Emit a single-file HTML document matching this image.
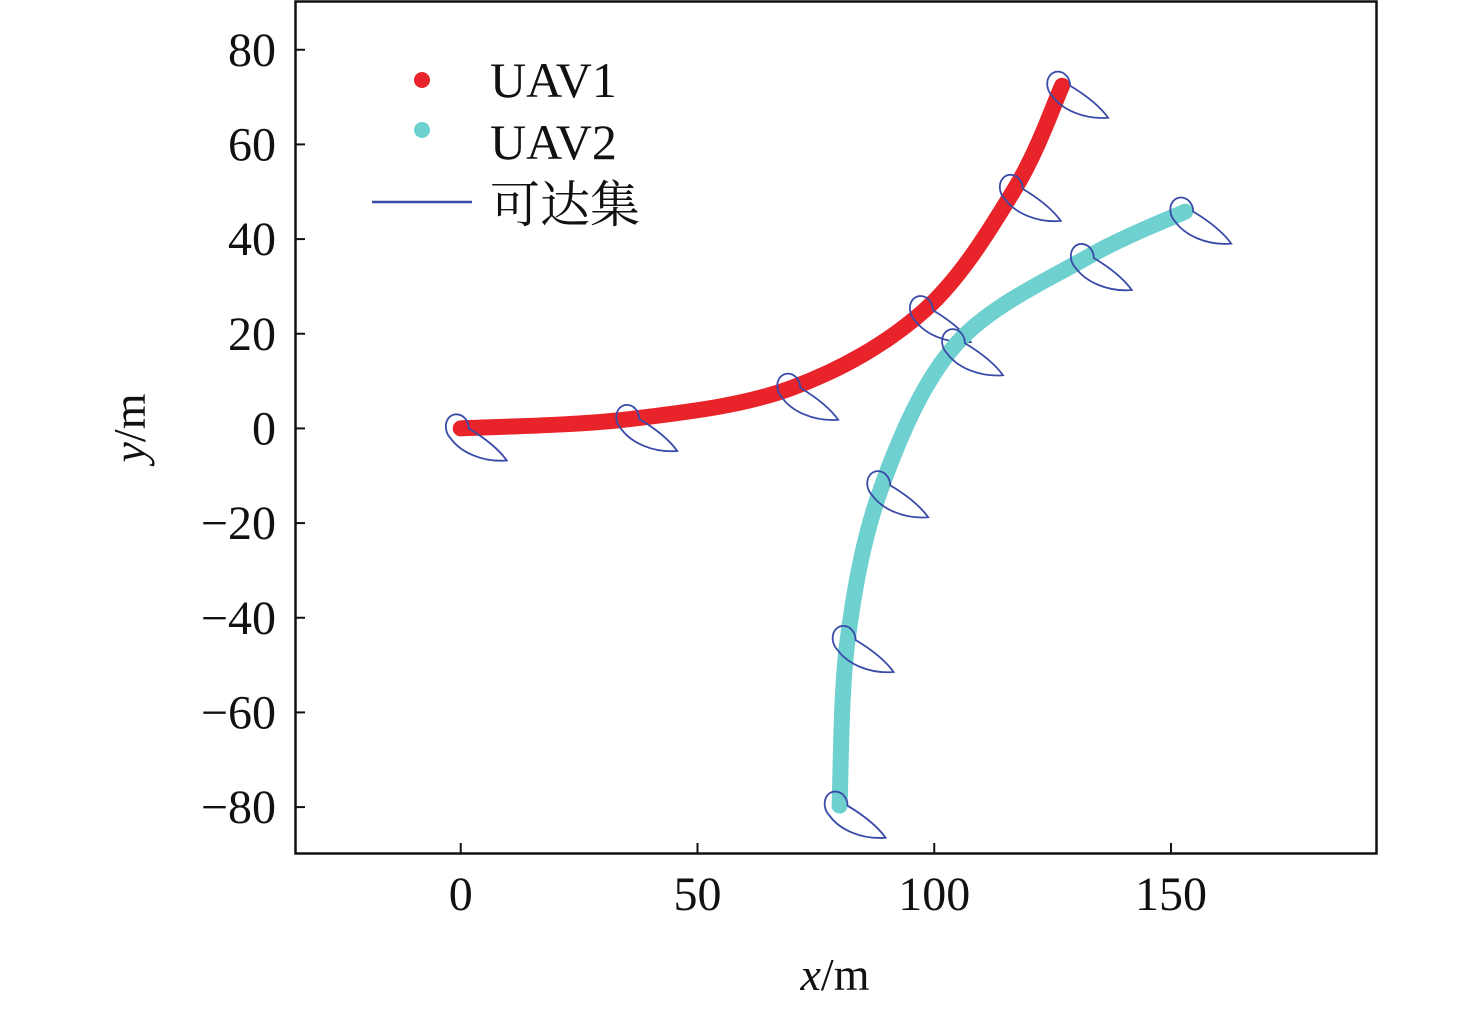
<!DOCTYPE html>
<html><head><meta charset="utf-8"><style>
body{margin:0;background:#fff;}
svg text{font-family:"Liberation Serif","Noto Serif CJK SC",serif;fill:#111;}
</style></head><body>
<svg id="chart" width="1476" height="1007" viewBox="0 0 1476 1007" xmlns="http://www.w3.org/2000/svg">
<g id="marks"></g>
<rect x="295.5" y="1.5" width="1081" height="852" fill="none" stroke="#111" stroke-width="2.5"/>
<g id="axes"></g>
<text x="835" y="990" font-size="46" text-anchor="middle"><tspan font-style="italic">x</tspan>/m</text>
<text transform="translate(145,428) rotate(-90)" font-size="46" text-anchor="middle"><tspan font-style="italic">y</tspan>/m</text>
<g>
<circle cx="422" cy="80" r="8" fill="#e8242a"/>
<text x="490" y="97" font-size="50">UAV1</text>
<circle cx="422" cy="130" r="8" fill="#6fd0d0"/>
<text x="490" y="159" font-size="50">UAV2</text>
<line x1="372" y1="202" x2="472" y2="202" stroke="#3a4aa8" stroke-width="2.5"/>
<text x="490" y="222" font-size="50">可达集</text>
</g>
</svg>
<script>
const xTicks=[0,50,100,150];
const yTicks=[80,60,40,20,0,-20,-40,-60,-80];
const uav1X=[0,36,70,98,117,127];
const uav1Y=[0,2,8.6,25,50.6,72.4];
const uav2X=[80,81.7,89,104.8,132,153];
const uav2Y=[-79.7,-44.7,-12,18,36,45.8];
const xMin=-35,xMax=193.5,yMin=-89.7,yMax=90.3;
const L=295,R=1377,T=1,B=853;
const sx=v=>L+(v-xMin)/(xMax-xMin)*(R-L);
const sy=v=>B-(v-yMin)/(yMax-yMin)*(B-T);
const NS="http://www.w3.org/2000/svg";
const axes=document.getElementById('axes'),marks=document.getElementById('marks');
function mk(tag,attrs,parent){const e=document.createElementNS(NS,tag);for(const k in attrs)e.setAttribute(k,attrs[k]);parent.appendChild(e);return e;}
xTicks.forEach(t=>{
 const l=mk('line',{x1:sx(t),x2:sx(t),y1:B,y2:B-10,stroke:'#111','stroke-width':2},axes);
 
 
 const tx=mk('text',{x:sx(t),y:910,'font-size':48,'text-anchor':'middle'},axes);tx.textContent=t;
 
 
});
yTicks.forEach(t=>{
 const l=mk('line',{x1:L,x2:L+10,y1:sy(t),y2:sy(t),stroke:'#111','stroke-width':2},axes);
 
 
 const tx=mk('text',{x:276,y:sy(t)+16,'font-size':48,'text-anchor':'end'},axes);tx.textContent=(t<0?'\u2212'+(-t):t);
 
 
});
function curve(xs,ys){
 const p=xs.map((x,i)=>[sx(x),sy(ys[i])]);
 let d='M'+p[0][0]+','+p[0][1];
 for(let i=0;i<p.length-1;i++){
  const p0=p[Math.max(0,i-1)],p1=p[i],p2=p[i+1],p3=p[Math.min(p.length-1,i+2)];
  d+=' C'+(p1[0]+(p2[0]-p0[0])/6)+','+(p1[1]+(p2[1]-p0[1])/6)+' '+(p2[0]-(p3[0]-p1[0])/6)+','+(p2[1]-(p3[1]-p1[1])/6)+' '+p2[0]+','+p2[1];
 }
 return d;
}
function series(xs,ys,color,name){
 const g=mk('g',{},marks);
 
 
 const path=mk('path',{d:curve(xs,ys),fill:'none',stroke:color,'stroke-width':16,'stroke-linecap':'round'},g);
 
 
 xs.forEach((x,i)=>{
  const s=mk('path',{d:'M-6,-14 C-16,-12 -18,2 -10,10 C0,24 22,34 46,32 C36,18 18,6 8,0 C8,-8 2,-15 -6,-14 Z',fill:'none',stroke:'#3a4aa8','stroke-width':1.8,transform:'translate('+sx(x)+','+sy(ys[i])+')'},marks);
  
  
 });
}
series(uav1X,uav1Y,'#e8242a','uav1-trajectory');
series(uav2X,uav2Y,'#6fd0d0','uav2-trajectory');
</script>
</body></html>
